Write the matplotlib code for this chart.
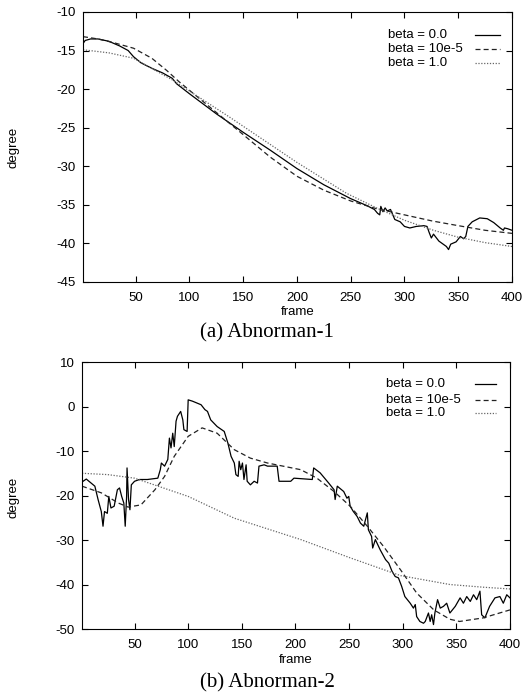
import matplotlib
matplotlib.use("Agg")
import matplotlib.pyplot as plt

plt.rcParams["font.family"] = ["Liberation Sans", "DejaVu Sans"]
plt.rcParams["axes.unicode_minus"] = False

# ------------------------------------------------------------
# (a) Abnorman-1, values
a_raw_x = [1, 3, 8, 15, 25, 35, 43, 48, 55, 65, 75, 84, 88, 100, 125, 150, 175, 200,
           225, 250, 265, 272, 275, 277, 278, 280, 282, 284, 287, 291, 296, 300, 305,
           311, 318, 321, 323, 325, 327, 332, 339, 341, 343, 348, 352, 355, 357, 359,
           363, 370, 377, 383, 389, 392, 393, 396, 400]
a_raw_y = [-14.1, -13.7, -13.5, -13.5, -13.8, -14.4, -15.0, -15.8, -16.6, -17.3, -17.9,
           -18.6, -19.3, -20.6, -23.2, -25.6, -27.9, -30.3, -32.4, -34.2, -35.1, -35.6,
           -36.1, -36.3, -35.2, -35.9, -35.4, -35.8, -35.6, -36.9, -37.2, -37.8, -38.0,
           -37.8, -37.7, -37.8, -38.6, -39.3, -38.8, -39.7, -40.4, -40.8, -40.1, -39.8,
           -39.1, -39.4, -39.1, -37.8, -37.2, -36.7, -36.8, -37.3, -38.0, -38.3, -38.0,
           -38.1, -38.3]
a_mid_x = [1, 15, 30, 48, 65, 79, 90, 110, 130, 150, 175, 200, 225, 250, 274, 300, 326,
           350, 375, 400]
a_mid_y = [-13.2, -13.5, -14.0, -14.7, -16.0, -17.6, -19.0, -21.3, -23.6, -25.9, -28.8,
           -31.3, -33.1, -34.5, -35.5, -36.3, -37.1, -37.7, -38.3, -38.7]
a_smooth_x = [1, 25, 48, 84, 137, 200, 246, 274, 300, 327, 350, 375, 400]
a_smooth_y = [-14.9, -15.3, -16.0, -18.8, -23.6, -29.5, -33.5, -35.4, -37.0, -38.3,
              -39.2, -39.9, -40.4]

# (b) Abnorman-2
b_raw_x = [2, 5, 13, 16, 19, 20.6, 22, 24.6, 26, 28, 31, 34, 36, 38, 40, 41.3, 42.6, 43,
           44.4, 45.7, 47, 50, 54.6, 62, 71.7, 74, 75, 78, 81, 82.5, 84, 85.6, 87, 88.7,
           90, 93, 95, 96, 99, 100, 104, 112, 115.6, 118, 121, 127, 133.6, 137, 140, 143,
           144.5, 146.6, 147.5, 149, 150.6, 152, 154, 155, 158, 161.5, 164.6, 166, 170.8,
           174, 183, 184.7, 195.6, 198.6, 215.7, 217, 223, 231, 236, 237, 239, 242, 245,
           248, 249.7, 251, 254, 257.5, 260.6, 263.7, 267, 268, 271, 272, 274.5, 279, 284,
           287, 290, 293, 296, 299, 302, 307, 310, 311.7, 313, 316, 319.4, 321, 324,
           325.6, 327, 328.7, 330, 332.5, 335, 338, 341, 344, 349, 353.5, 356.6, 359.7,
           363, 366, 369, 372, 373.6, 376.6, 381, 386, 390.6, 393.8, 397, 400]
b_raw_y = [-16.8, -16.3, -17.9, -20.9, -23.6, -26.9, -23.6, -24.0, -20.2, -22.8, -22.4,
           -18.7, -18.3, -20.2, -21.7, -26.9, -20.2, -13.8, -20.9, -23.2, -17.6, -16.8,
           -16.4, -16.4, -16.1, -14.2, -12.7, -13.4, -11.9, -7.1, -9.3, -6.0, -9.0, -3.3,
           -2.2, -1.1, -3.0, -5.2, -5.6, 1.5, 1.2, 0.4, -0.7, -1.1, -3.0, -4.5, -5.6,
           -8.2, -11.2, -12.7, -15.3, -15.7, -12.3, -14.2, -12.7, -16.4, -13.1, -16.8,
           -17.6, -16.8, -17.2, -13.4, -13.1, -13.4, -13.4, -16.8, -16.8, -16.1, -16.4,
           -13.8, -14.9, -17.2, -18.7, -20.9, -17.9, -18.5, -19.1, -20.6, -20.2, -22.4,
           -23.6, -24.7, -26.2, -26.9, -23.9, -27.7, -29.2, -31.8, -29.9, -32.2, -34.4,
           -35.2, -37.0, -38.2, -38.5, -40.4, -42.7, -44.2, -45.3, -44.5, -47.2, -48.3,
           -48.7, -48.3, -46.4, -48.3, -46.8, -49.0, -46.4, -43.4, -45.3, -44.9, -44.2,
           -46.4, -44.9, -43.0, -44.2, -42.7, -43.8, -42.3, -43.4, -41.5, -46.8, -47.5,
           -44.9, -43.0, -42.7, -44.2, -42.3, -43.0]
b_mid_x = [1, 19, 35, 44, 56, 69, 78, 87, 100, 113, 127, 143, 158, 174, 205, 220, 236,
           251, 267, 282, 298, 313, 329, 344, 353, 375, 400]
b_mid_y = [-17.9, -19.4, -21.7, -22.6, -22.1, -18.7, -15.7, -11.2, -6.7, -4.8, -6.0,
           -9.7, -11.6, -12.7, -14.2, -16.1, -19.1, -22.4, -26.9, -31.4, -36.7, -41.9,
           -45.7, -47.8, -48.3, -47.5, -45.7]
b_smooth_x = [1, 25, 50, 72, 100, 143, 205, 251, 298, 344, 375, 400]
b_smooth_y = [-15.0, -15.3, -16.1, -17.9, -20.2, -25.1, -29.9, -34.0, -38.0, -40.0,
              -40.6, -41.0]

labels = ["beta = 0.0", "beta = 10e-5", "beta = 1.0"]
x_ticks = [50, 100, 150, 200, 250, 300, 350, 400]

# ------------------------------------------------------------
styles = [dict(color="black", linestyle="-", linewidth=0.9),
          dict(color="#222222", linestyle=(0, (4, 2.5)), linewidth=0.9),
          dict(color="#666666", linestyle=(0, (1, 1.3)), linewidth=0.9)]


def draw_panel(ax, series, ylim, yticks, legend_x, legend_rows, handle_x):
    for (xs, ys), st in zip(series, styles):
        ax.plot(xs, ys, **st)
    ax.set_xlim(1, 400)
    ax.set_ylim(*ylim)
    ax.set_xticks(x_ticks)
    ax.set_yticks(yticks)
    ax.tick_params(direction="in", length=4.5, width=0.8, labelsize=9.5,
                   top=True, right=True)
    ax.tick_params(axis="x", pad=7)
    ax.tick_params(axis="y", pad=5)
    for sp in ax.spines.values():
        sp.set_linewidth(0.8)
    ax.set_xlabel("frame", fontsize=9.5, labelpad=2)
    # gnuplot style key: text left aligned, sample line on the right
    for lab, yy, st in zip(labels, legend_rows, styles):
        ax.text(legend_x, yy, lab, transform=ax.transAxes, fontsize=9.5,
                va="center", ha="left")
        ax.plot(handle_x, [yy, yy], transform=ax.transAxes, **st)


fig = plt.figure(figsize=(5.31, 6.99), dpi=100)
ax1 = fig.add_axes([0.1563, 0.5966, 0.8079, 0.3863])
ax2 = fig.add_axes([0.1544, 0.1001, 0.8060, 0.3820])

draw_panel(ax1, [(a_raw_x, a_raw_y), (a_mid_x, a_mid_y), (a_smooth_x, a_smooth_y)],
           (-45, -10), list(range(-45, -9, 5)), 0.711, [0.913, 0.862, 0.812],
           [0.914, 0.972])
draw_panel(ax2, [(b_raw_x, b_raw_y), (b_mid_x, b_mid_y), (b_smooth_x, b_smooth_y)],
           (-50, 10), list(range(-50, 11, 10)), 0.710, [0.917, 0.858, 0.809],
           [0.918, 0.967])

fig.text(13 / 531, 1 - 147 / 699, "degree", rotation=90, fontsize=9.5,
         ha="center", va="center")
fig.text(13 / 531, 1 - 497 / 699, "degree", rotation=90, fontsize=9.5,
         ha="center", va="center")
fig.text(267 / 531, 1 - 333 / 699, "(a) Abnorman-1", fontsize=15,
         family="Liberation Serif", ha="center", va="center")
fig.text(267 / 531, 1 - 683 / 699, "(b) Abnorman-2", fontsize=15,
         family="Liberation Serif", ha="center", va="center")

fig.savefig("out.png", dpi=100)
